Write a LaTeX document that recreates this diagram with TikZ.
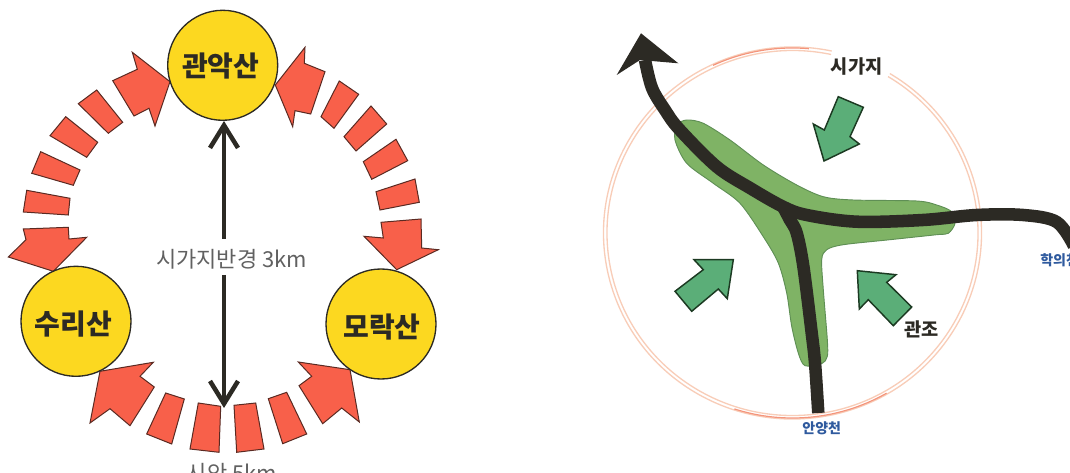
\documentclass[tikz,border=0pt]{standalone}
\usepackage{fontspec}
\usetikzlibrary{arrows.meta}
\setmainfont{Noto Sans CJK KR}
\definecolor{segred}{HTML}{F8604A}
\definecolor{segline}{HTML}{5A2A22}
\definecolor{mtyellow}{HTML}{FCD820}
\definecolor{inkdark}{HTML}{2C2A24}
\definecolor{leafgreen}{HTML}{7FB365}
\definecolor{leafline}{HTML}{5F8F55}
\definecolor{arrowgreen}{HTML}{5BAE78}
\definecolor{arrowline}{HTML}{1C3A22}
\definecolor{ringsoft}{HTML}{F8CDB8}
\definecolor{ringred}{HTML}{F4957C}
\definecolor{riverblue}{HTML}{2F5A9E}
\tikzset{
  x=.75pt,y=-.75pt,
  seg/.style={fill=segred,draw=segline,line width=.75pt,line join=miter},
  mount/.style={circle,fill=mtyellow,draw=inkdark,line width=1pt,minimum size=82.5pt,inner sep=0pt},
  mtlabel/.style={font=\bfseries\fontsize{21}{21}\selectfont,text=inkdark},
  dist/.style={draw=inkdark,line width=3.4pt},
  road/.style={draw=inkdark,line width=9.4pt},
  garrow/.style={fill=arrowgreen,draw=arrowline,line width=1.1pt,line join=miter},
  ring/.style={draw=ringsoft,line width=1pt},
  ringhot/.style={draw=ringred,line width=.9pt},
  river/.style={font=\bfseries\fontsize{10.5}{10.5}\selectfont,text=riverblue},
  radtext/.style={font=\fontsize{16.5}{16.5}\selectfont,text=black!62,inner sep=0pt},
}
\begin{document}
\begin{tikzpicture}
\useasboundingbox (0,0) rectangle (1070,473);
\clip (0,0) rectangle (1070,473);
% left: segments
\path[seg] (112.7,80.7)--(137.3,69.3)--(132.3,52.3)--(170,81.7)--(155,126)--(149,108.3)--(134,116)--cycle;
\path[seg] (78.3,103.7)--(96.7,90)--(122.7,122.3)--(108.3,133.3)--cycle;
\path[seg] (50,135.7)--(65.7,116.7)--(97.7,142.3)--(86.7,157.3)--cycle;
\path[seg] (31.7,173.3)--(40.7,151.7)--(80,170)--(73.3,185.3)--cycle;
\path[seg] (23.3,212)--(26.7,190.3)--(70,198.3)--(68.3,215)--cycle;
\path[seg] (23.3,229)--(68.3,227.3)--(69,239)--(86.7,237.3)--(53.3,271.3)--(8.3,257)--(26,239.7)--cycle;
\path[seg] (275.3,85)--(305,47.3)--(304.3,63.3)--(325,71.7)--(310.7,114)--(295,110.7)--(292.7,126.7)--cycle;
\path[seg] (339.3,81)--(358.7,94.3)--(334,128.3)--(321,116.7)--cycle;
\path[seg] (371,106)--(386.7,124)--(356,151)--(344,136.7)--cycle;
\path[seg] (396,139.3)--(407.7,160.7)--(371.7,179.3)--(363.3,161.7)--cycle;
\path[seg] (415,179)--(419.3,202.3)--(380,210)--(376,191.7)--cycle;
\path[seg] (381,222.3)--(421,219)--(421.7,248)--(438.3,249.7)--(396.7,269.7)--(364,236.3)--(383.3,238)--cycle;
\path[seg] (100,371.3)--(153.3,362.3)--(140,376.3)--(154.3,387)--(130,425.7)--(110,408.7)--(90,423)--cycle;
\path[seg] (165.7,393)--(184.3,399)--(171.7,444)--(146.7,434)--cycle;
\path[seg] (198.3,403)--(220.7,406.3)--(219,452.3)--(190,449)--cycle;
\path[seg] (234,405.3)--(255.7,403)--(264,449)--(236.7,452.3)--cycle;
\path[seg] (268.3,398.7)--(286.7,392.3)--(306.7,434)--(282.7,443.7)--cycle;
\path[seg] (298.3,362)--(350,369.7)--(359.3,422)--(341.7,408)--(322.7,423.7)--(299,385.7)--(311.7,376.3)--cycle;
% mountains
\node[mount] (kw) at (222.7,65.3) {}; \node[mtlabel] (kwt) at (220.7,66.5) {관악산};
\node[mount] (su) at (76,321.3) {}; \node[mtlabel] (sut) at (73.5,324.5) {수리산};
\node[mount] (mo) at (381,324) {}; \node[mtlabel] (mot) at (382,327.5) {모락산};
% radius
\node[radtext] (rad) at (231.7,259.7) {시가지반경 3km};
\coordinate (topstart) at (224,239);
\coordinate (botstart) at (224,275);
\coordinate (botend) at (224,408);
\draw[dist,-{Straight Barb[length=17pt,width=21pt,line width=3.4pt]}] (topstart) -- (topstart |- kw.south);
\draw[dist,-{Straight Barb[length=17pt,width=21pt,line width=3.4pt]}] (botstart) -- (botend);
\node[radtext,anchor=north] (out) at (232,463.5) {시안 5km};
% right: ring
\draw[ring] (792.5,233)+(-59:189 and 186) arc[start angle=-59,end angle=282,x radius=189,y radius=186];
\draw[ring] (792.5,233)+(-59:185.5 and 182.5) arc[start angle=-59,end angle=282,x radius=185.5,y radius=182.5];
\draw[ringhot] (792.5,233)+(60:188 and 185) arc[start angle=60,end angle=108,x radius=188,y radius=185];
\draw[ringhot] (792.5,233)+(245:188 and 185) arc[start angle=245,end angle=275,x radius=188,y radius=185];
% green blob
\draw[fill=leafgreen,draw=leafline,line width=.7pt] plot[smooth cycle,tension=.5] coordinates {
(686.7,120)(703.3,123.3)(730,140)(763.3,165)(796.7,185)(823.3,196.7)(853.3,200)(916.7,201)(936.7,205)(951.7,211.7)(955,223.3)(948.3,233.3)(936.7,234.7)(890,239.7)(843.3,244.7)(826.7,249.7)(821.7,259.7)(823.3,289.7)(827.3,339.7)(827.3,356.3)(821.7,363.7)(805,365.7)(798.3,353)(791.7,326.3)(786.7,293)(778.3,263)(763.3,236.7)(740,203.3)(713.3,183.3)(686.7,163.3)(675,140)(677,125)};
% roads
\coordinate (eastend) at (1074,246);
\coordinate (northend) at (645,60);
\coordinate (junction) at (783,206.7);
\coordinate (southend) at (818.3,413);
\draw[road] plot[smooth,tension=.55] coordinates {(eastend)(1056.7,222)(1023,215)(976.7,215)(923,220)(856.7,221.7)(806.7,215)(junction)(750,188)(716.7,166.7)(679,129)(665,110)(652,88)(northend)};
\draw[road] plot[smooth,tension=.55] coordinates {(junction)(790,220)(796.7,233)(803.3,266)(811.7,333)(815,363)(southend)};
\fill[inkdark] (641,33.3)--(678.3,63.3)--(640,60)--(616.7,75)--cycle;
% green arrows
\path[garrow] (838.3,96.7)--(863.3,107.3)--(850,136.7)--(859.3,144)--(824,161)--(813.3,124)--(824.3,130)--cycle;
\path[garrow] (675,291.3)--(703.3,269.7)--(694,259.7)--(733.3,259.7)--(727.3,298.7)--(718.3,289)--(691.7,311.3)--cycle;
\path[garrow] (911.7,307)--(893.3,325.7)--(868.3,299.7)--(859.3,309)--(857.3,270.7)--(896,274.7)--(886.7,282.3)--cycle;
% labels
\node[font=\bfseries\fontsize{14}{14}\selectfont,text=inkdark,inner sep=0pt] (sig) at (856.7,66.7) {시가지};
\node[font=\bfseries\fontsize{14}{14}\selectfont,text=inkdark,inner sep=0pt] (gwa) at (921.7,329.7) {관조};
\node[river,inner sep=0pt] (any) at (821.7,428) {안양천};
\node[river,inner sep=0pt,anchor=west] (hwa) at (1040,260) {학의천};
\end{tikzpicture}
\end{document}
